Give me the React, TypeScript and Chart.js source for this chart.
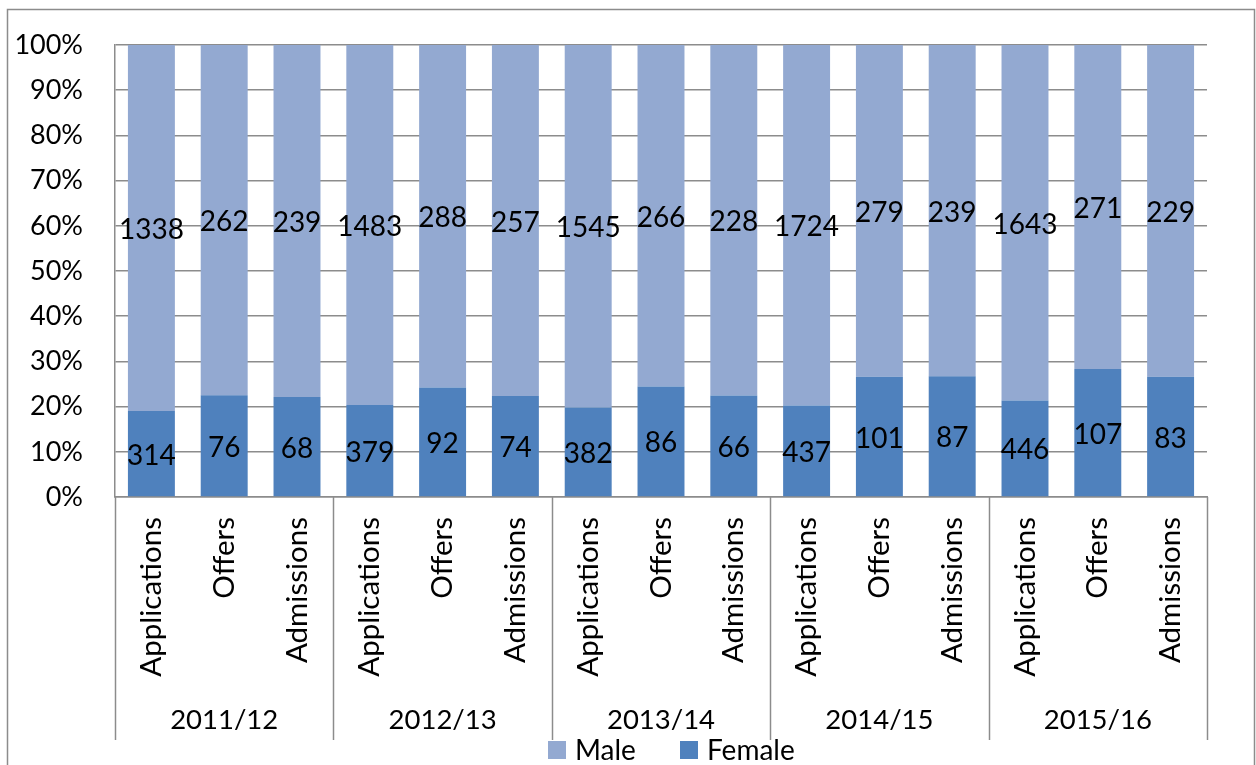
import React, { useEffect, useRef } from "react";
import { Chart, registerables } from "chart.js";

Chart.register(...registerables);

const years = ["2011/12", "2012/13", "2013/14", "2014/15", "2015/16"];
const stages = ["Applications", "Offers", "Admissions"];
const maleCounts = [1338, 262, 239, 1483, 288, 257, 1545, 266, 228, 1724, 279, 239, 1643, 271, 229];
const femaleCounts = [314, 76, 68, 379, 92, 74, 382, 86, 66, 437, 101, 87, 446, 107, 83];
const seriesNames = ["Male", "Female"];
const maleColor = "#93A9D1";
const femaleColor = "#4F81BD";
const gridColor = "#8C8C8C";
const FONT = "Lato, 'Open Sans', sans-serif";

const categories: string[] = [];
years.forEach(() => stages.forEach((s) => categories.push(s)));

const totals = maleCounts.map((m, i) => m + femaleCounts[i]);
const femalePct = femaleCounts.map((f, i) => (f / totals[i]) * 100);
const malePct = maleCounts.map((m, i) => (m / totals[i]) * 100);

const overlay = {
  id: "overlay",
  afterDatasetsDraw(chart: any) {
    const ctx = chart.ctx;
    ctx.save();
    ctx.font = `28px ${FONT}`;
    ctx.fillStyle = "#000";
    ctx.textAlign = "center";
    ctx.textBaseline = "middle";
    const counts = [femaleCounts, maleCounts];
    chart.data.datasets.forEach((_ds: any, di: number) => {
      const meta = chart.getDatasetMeta(di);
      meta.data.forEach((bar: any, i: number) => {
        const p = bar.getProps(["x", "y", "base"], true);
        ctx.fillText(String(counts[di][i]), p.x, (p.y + p.base) / 2 + 2);
      });
    });
    ctx.restore();
  },
  afterDraw(chart: any) {
    const ctx = chart.ctx;
    const xs = chart.scales.x;
    const area = chart.chartArea;
    const n = categories.length;
    const step = (xs.right - xs.left) / n;
    ctx.save();
    ctx.strokeStyle = gridColor;
    ctx.lineWidth = 1.5;
    // group separators
    for (let k = 0; k <= years.length; k++) {
      const x = Math.round(xs.left + k * stages.length * step) + 0.5;
      ctx.beginPath();
      ctx.moveTo(x, area.bottom);
      ctx.lineTo(x, 740);
      ctx.stroke();
    }
    // group labels
    ctx.fillStyle = "#000";
    ctx.font = `27.5px ${FONT}`;
    ctx.textAlign = "center";
    ctx.textBaseline = "middle";
    years.forEach((y, k) => {
      const cx = xs.left + (k * stages.length + stages.length / 2) * step;
      ctx.fillText(y, cx, 720);
    });
    // outer border
    ctx.beginPath();
    ctx.moveTo(7.5, 780);
    ctx.lineTo(7.5, 9.5);
    ctx.lineTo(1254.5, 9.5);
    ctx.lineTo(1254.5, 780);
    ctx.stroke();
    // legend
    const items = [
      { name: seriesNames[0], color: maleColor, x: 548 },
      { name: seriesNames[1], color: femaleColor, x: 680 },
    ];
    ctx.textAlign = "left";
    ctx.font = `28px ${FONT}`;
    items.forEach((it) => {
      ctx.fillStyle = it.color;
      ctx.fillRect(it.x, 741, 18, 18);
      ctx.fillStyle = "#000";
      ctx.fillText(it.name, it.x + 27, 751);
    });
    ctx.restore();
  },
};

export default function App() {
  const ref = useRef<HTMLCanvasElement>(null);
  useEffect(() => {
    if (!ref.current) return;
    const chart = new Chart(ref.current, {
      type: "bar",
      data: {
        labels: categories,
        datasets: [
          { label: seriesNames[1], data: femalePct, backgroundColor: femaleColor, barPercentage: 0.645, categoryPercentage: 1 },
          { label: seriesNames[0], data: malePct, backgroundColor: maleColor, barPercentage: 0.645, categoryPercentage: 1 },
        ],
      },
      options: {
        responsive: false,
        animation: false,
        layout: { padding: { left: 0, top: 45, right: 49, bottom: 0 } },
        plugins: { legend: { display: false }, tooltip: { enabled: false } },
        scales: {
          x: {
            stacked: true,
            grid: { display: false, drawTicks: false },
            border: { display: true, color: gridColor, width: 1.5 },
            ticks: { minRotation: 90, maxRotation: 90, autoSkip: false, padding: 20, color: "#000", font: { family: FONT, size: 29.5 } },
            afterFit: (s: any) => {
              s.height = 765 - 497;
              s.paddingLeft = 0;
              s.paddingRight = 0;
              s.paddingTop = 0;
              s.paddingBottom = 0;
            },
          },
          y: {
            stacked: true,
            min: 0,
            max: 100,
            ticks: { stepSize: 10, padding: 32, color: "#000", font: { family: FONT, size: 27 }, callback: (v: any) => v + "%" },
            grid: { color: gridColor, lineWidth: 1.5, drawTicks: false },
            border: { display: true, color: gridColor, width: 1.5 },
            afterFit: (s: any) => {
              s.width = 115;
              s.paddingTop = 0;
              s.paddingBottom = 0;
              s.paddingLeft = 0;
              s.paddingRight = 0;
            },
          },
        },
      },
      plugins: [overlay],
    });
    return () => chart.destroy();
  }, []);
  return (
    <div style={{ position: "absolute", left: 0, top: 0, width: 1256, height: 765, background: "#fff" }}>
      <canvas ref={ref} width={1256} height={765} />
    </div>
  );
}
